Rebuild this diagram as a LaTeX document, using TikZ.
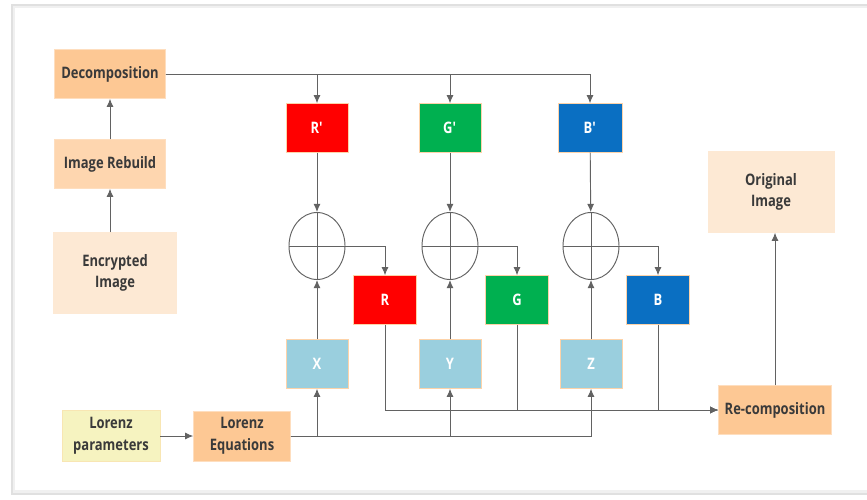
\documentclass[tikz,border=0pt]{standalone}
\usepackage{fontspec}
\setmainfont{Open Sans}[FakeStretch=0.82]
\usetikzlibrary{shapes.geometric, arrows.meta}
\definecolor{txtgray}{HTML}{3A3A3A}
\definecolor{linegray}{HTML}{626262}
\definecolor{peach}{HTML}{FDC894}
\definecolor{lightpeach}{HTML}{FDE9D4}
\definecolor{lemon}{HTML}{F6F3C0}
\definecolor{skyblue}{HTML}{9ACFDE}
\definecolor{rred}{HTML}{FF0000}
\definecolor{ggreen}{HTML}{00B050}
\definecolor{bblue}{HTML}{0A6FC2}
\tikzset{x=0.03cm, y=-0.03cm, % one unit is one pixel of the drawing
>={Latex[length=7pt, width=6pt]}, % arrow heads
every node/.style={font=\bfseries\fontsize{13.5}{18.5}\selectfont, text=txtgray, align=center},
box/.style={draw=peach!60, line width=0.4pt, minimum width=3.33cm, minimum height=1.47cm, inner sep=1pt},
chan/.style={box, minimum width=1.85cm, text=white, draw=peach!80},
xorop/.style={ellipse, draw=linegray, thick, minimum width=1.68cm, minimum height=2.01cm, inner sep=0pt},
wire/.style={->, draw=linegray, line width=0.8pt},
}

\begin{document}
\begin{tikzpicture}
    \useasboundingbox (0,0) rectangle (867,499);
    % frame
    \fill[black!12] (11,4) rectangle (880,495);
    \fill[black!6] (13,6) rectangle (878,493);
    \fill[white] (15,8) rectangle (876,490);

    \node[box, fill=peach] (decomp) at (110,74) {Decomposition};
    \node[box, fill=peach!75] (rebuild) at (110,164) {Image Rebuild};
    \node[box, fill=lightpeach, draw=lightpeach, minimum width=3.69cm, minimum height=2.43cm] (encimg) at (115,273) {Encrypted\\Image};
    \node[box, fill=lightpeach, draw=lightpeach, minimum width=3.78cm, minimum height=2.43cm] (origimg) at (771,192) {Original\\Image};

    \node[chan, fill=rred] (rp) at (317,128) {R\textquotesingle};
    \node[chan, fill=ggreen] (gp) at (450,128) {G\textquotesingle};
    \node[chan, fill=bblue, minimum width=1.92cm] (bp) at (590,128) {B\textquotesingle};

    \node[xorop] (xr) at (317,246) {};
    \node[xorop] (xg) at (450,246) {};
    \node[xorop] (xb) at (591,246) {};

    \node[chan, fill=rred, minimum width=1.89cm] (r) at (385,300) {R};
    \node[chan, fill=ggreen, minimum width=1.89cm] (g) at (517,300) {G};
    \node[chan, fill=bblue, minimum width=1.89cm] (b) at (658,300) {B};

    \node[chan, fill=skyblue] (xk) at (317,364) {X};
    \node[chan, fill=skyblue] (yk) at (450,364) {Y};
    \node[chan, fill=skyblue] (zk) at (591,364) {Z};

    \node[box, fill=lemon, draw=lemon!70!peach, minimum width=2.94cm, minimum height=1.53cm] (lparams) at (111,436) {Lorenz\\parameters};
    \node[box, fill=peach, minimum width=2.91cm, minimum height=1.5cm] (leqs) at (242,436) {Lorenz\\Equations};
    \node[box, fill=peach, minimum width=3.39cm] (recomp) at (775,410) {Re-composition};

    % crosses inside the xor nodes
    \foreach \n in {xr, xg, xb} {
        \draw[linegray, thick] (\n.north) -- (\n.south) (\n.west) -- (\n.east);
    }

    \draw[wire] (encimg.north -| rebuild.south) -- (rebuild.south);
    \draw[wire] (rebuild) -- (decomp);
    \draw[wire] (decomp.east) -| (rp.north);
    \draw[wire] (decomp.east) -| (gp.north);
    \draw[wire] (decomp.east) -| (bp.north);

    \draw[wire] (rp) -- (xr);
    \draw[wire] (gp) -- (xg);
    \draw[wire] (bp) -- (xb);
    \draw[wire] (xr.east) -| (r.north);
    \draw[wire] (xg.east) -| (g.north);
    \draw[wire] (xb.east) -| (b.north);
    \draw[wire] (xk) -- (xr);
    \draw[wire] (yk) -- (xg);
    \draw[wire] (zk) -- (xb);

    \draw[wire] (lparams) -- (leqs);
    \draw[wire] (leqs.east) -| (xk.south);
    \draw[wire] (leqs.east) -| (yk.south);
    \draw[wire] (leqs.east) -| (zk.south);

    \draw[wire] (r.south) |- (recomp.west);
    \draw[wire] (g.south) |- (recomp.west);
    \draw[wire] (b.south) |- (recomp.west);
    \draw[wire] (recomp.north) -- (recomp.north |- origimg.south);
\end{tikzpicture}
\end{document}
